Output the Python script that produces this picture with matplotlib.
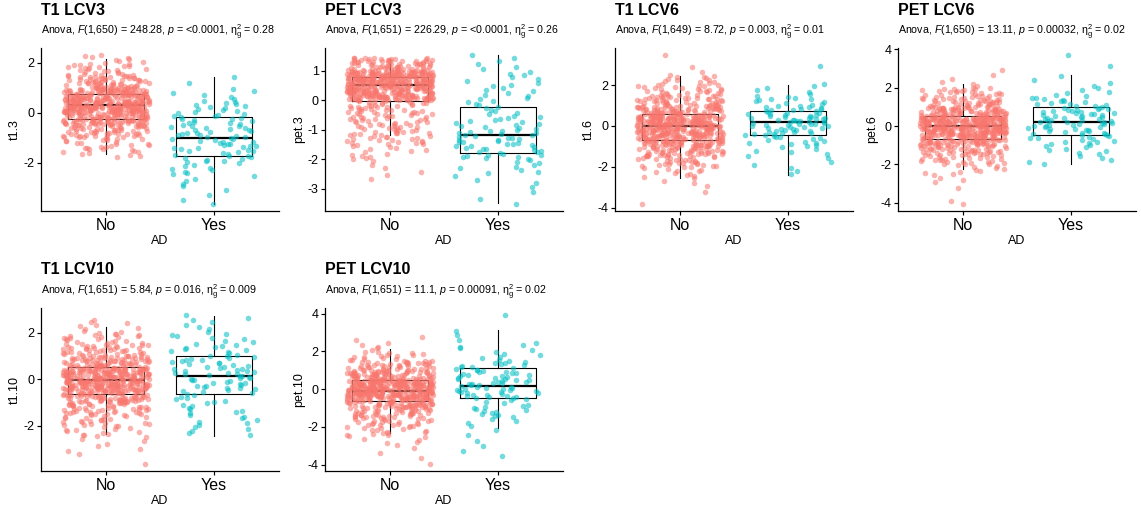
import numpy as np
import matplotlib
matplotlib.use("Agg")
import matplotlib.pyplot as plt

plt.rcParams['font.family'] = ['Liberation Sans', 'DejaVu Sans']
plt.rcParams['axes.unicode_minus'] = False
plt.rcParams['mathtext.fontset'] = 'custom'
plt.rcParams['mathtext.rm'] = 'Liberation Sans'
plt.rcParams['mathtext.it'] = 'Liberation Sans:italic'
plt.rcParams['mathtext.bf'] = 'Liberation Sans:bold'

# ---------------- data ----------------
groups = ["No", "Yes"]
xlabel = "AD"
titles = ["T1 LCV3", "PET LCV3", "T1 LCV6", "PET LCV6", "T1 LCV10", "PET LCV10"]
ylabels = ["t1.3", "pet.3", "t1.6", "pet.6", "t1.10", "pet.10"]
subtitles = [
    r"Anova, $\mathit{F}$(1,650) = 248.28, $\mathit{p}$ = <0.0001, $\mathrm{\eta}_\mathrm{g}^\mathrm{2}$ = 0.28",
    r"Anova, $\mathit{F}$(1,651) = 226.29, $\mathit{p}$ = <0.0001, $\mathrm{\eta}_\mathrm{g}^\mathrm{2}$ = 0.26",
    r"Anova, $\mathit{F}$(1,649) = 8.72, $\mathit{p}$ = 0.003, $\mathrm{\eta}_\mathrm{g}^\mathrm{2}$ = 0.01",
    r"Anova, $\mathit{F}$(1,650) = 13.11, $\mathit{p}$ = 0.00032, $\mathrm{\eta}_\mathrm{g}^\mathrm{2}$ = 0.02",
    r"Anova, $\mathit{F}$(1,651) = 5.84, $\mathit{p}$ = 0.016, $\mathrm{\eta}_\mathrm{g}^\mathrm{2}$ = 0.009",
    r"Anova, $\mathit{F}$(1,651) = 11.1, $\mathit{p}$ = 0.00091, $\mathrm{\eta}_\mathrm{g}^\mathrm{2}$ = 0.02",
]
yticks = [[-2, 0, 2], [-3, -2, -1, 0, 1], [-4, -2, 0, 2], [-4, -2, 0, 2, 4],
          [-2, 0, 2], [-4, -2, 0, 2, 4]]

# box statistics: [whisker low, Q1, median, Q3, whisker high]
t13_no_box = [-1.65, -0.24, 0.32, 0.75, 2.16]
t13_yes_box = [-3.64, -1.72, -1.01, -0.17, 1.43]
pet3_no_box = [-1.19, -0.01, 0.51, 0.79, 1.41]
pet3_yes_box = [-3.49, -1.78, -1.18, -0.22, 1.52]
t16_no_box = [-2.54, -0.69, 0.00, 0.57, 2.44]
t16_yes_box = [-2.38, -0.44, 0.19, 0.74, 2.02]
pet6_no_box = [-2.24, -0.66, 0.00, 0.52, 2.21]
pet6_yes_box = [-1.99, -0.47, 0.22, 0.97, 2.68]
t110_no_box = [-2.35, -0.64, -0.02, 0.53, 2.23]
t110_yes_box = [-2.42, -0.64, 0.13, 1.01, 2.72]
pet10_no_box = [-2.31, -0.62, -0.09, 0.49, 2.13]
pet10_yes_box = [-2.04, -0.45, 0.14, 1.12, 3.15]

# point distributions: bin edges and counts per bin
t13_no_edges = [-1.79, -1.5, -1, -0.5, 0, 0.5, 1, 1.5, 2, 2.32]
t13_no_counts = [8, 22, 50, 100, 160, 120, 55, 25, 8]
t13_yes_edges = [-3.7, -3.58, -3, -2.5, -2, -1.5, -1, -0.5, 0, 0.5, 1, 1.38, 1.48]
t13_yes_counts = [1, 3, 5, 9, 15, 18, 18, 16, 12, 6, 1, 1]

pet3_no_edges = [-2.7, -2.6, -2.0, -1.5, -1.0, -0.5, 0, 0.5, 1.0, 1.45]
pet3_no_counts = [1, 5, 14, 30, 35, 40, 160, 195, 68]
pet3_yes_edges = [-3.55, -3.45, -3, -2.5, -2, -1.5, -1, -0.5, 0, 0.5, 1, 1.47, 1.57]
pet3_yes_counts = [1, 2, 4, 9, 20, 22, 14, 10, 9, 8, 5, 1]

t16_no_edges = [-3.85, -3.75, -3.5, -3, -2.5, -2, -1.5, -1, -0.5, 0, 0.5, 1, 1.5, 2, 2.5, 3, 3.4, 3.5]
t16_no_counts = [1, 0, 1, 4, 12, 28, 50, 80, 103, 115, 70, 42, 25, 14, 2, 0, 1]
t16_yes_edges = [-2.45, -2, -1.5, -1, -0.5, 0, 0.5, 1, 1.5, 2.1, 2.9, 3.0]
t16_yes_counts = [3, 3, 6, 12, 20, 25, 18, 11, 6, 0, 1]

pet6_no_edges = [-4.1, -3.85, -3.5, -3.0, -2.5, -2, -1.5, -1, -0.5, 0, 0.5, 1, 1.5, 2, 2.5, 3.05]
pet6_no_counts = [2, 0, 1, 4, 10, 25, 45, 75, 120, 125, 70, 40, 25, 4, 2]
pet6_yes_edges = [-2.05, -1.5, -1, -0.5, 0, 0.5, 1, 1.5, 2, 2.5, 2.75, 3.1, 3.2, 3.63, 3.73]
pet6_yes_counts = [5, 7, 12, 17, 20, 19, 13, 6, 3, 1, 0, 1, 0, 1]

t110_no_edges = [-3.7, -3.55, -3.25, -3.15, -2.5, -2, -1.5, -1, -0.5, 0, 0.5, 1, 1.5, 2, 2.58]
t110_no_counts = [1, 0, 1, 6, 14, 24, 42, 75, 125, 118, 71, 40, 22, 9]
t110_yes_edges = [-2.45, -2, -1.5, -1, -0.5, 0, 0.5, 1, 1.5, 2, 2.5, 2.8]
t110_yes_counts = [5, 7, 8, 9, 16, 18, 15, 11, 8, 5, 3]

pet10_no_edges = [-4.1, -3.5, -3, -2.5, -2, -1.5, -1, -0.5, 0, 0.5, 1, 1.5, 2, 2.5, 2.85]
pet10_no_counts = [2, 2, 6, 15, 25, 40, 68, 132, 125, 70, 40, 16, 5, 2]
pet10_yes_edges = [-3.7, -2.9, -2.0, -1.5, -1.0, -0.5, 0, 0.5, 1.0, 1.5, 2.0, 2.5, 3.2, 3.85, 3.95]
pet10_yes_counts = [3, 3, 4, 10, 7, 18, 17, 16, 12, 6, 5, 3, 0, 1]

colors = ["#F8766D", "#00BFC4"]

panels = [
    (t13_no_edges, t13_no_counts, t13_yes_edges, t13_yes_counts, t13_no_box, t13_yes_box),
    (pet3_no_edges, pet3_no_counts, pet3_yes_edges, pet3_yes_counts, pet3_no_box, pet3_yes_box),
    (t16_no_edges, t16_no_counts, t16_yes_edges, t16_yes_counts, t16_no_box, t16_yes_box),
    (pet6_no_edges, pet6_no_counts, pet6_yes_edges, pet6_yes_counts, pet6_no_box, pet6_yes_box),
    (t110_no_edges, t110_no_counts, t110_yes_edges, t110_yes_counts, t110_no_box, t110_yes_box),
    (pet10_no_edges, pet10_no_counts, pet10_yes_edges, pet10_yes_counts, pet10_no_box, pet10_yes_box),
]


def expand(edges, counts):
    ys = []
    for lo, hi, c in zip(edges[:-1], edges[1:], counts):
        for i in range(c):
            ys.append(lo + (i + 0.5) / c * (hi - lo))
    return np.array(ys)


# ---------------- layout ----------------
W, H = 1141, 514
fig = plt.figure(figsize=(W / 100, H / 100), dpi=100)

col_left = [41, 325, 615, 898]
row_top = [48, 308]
ax_w, ax_h = 238, 163
title_base = [15, 274]
sub_base = [34.5, 295]

rng = np.random.default_rng(7)

for k, (ne, nc, ye, yc, nb, yb) in enumerate(panels):
    r, c = divmod(k, 4)
    left = col_left[c]
    top = row_top[r]
    ax = fig.add_axes([left / W, 1 - (top + ax_h) / H, ax_w / W, ax_h / H])

    all_y = []
    for gi, (edges, counts, box) in enumerate([(ne, nc, nb), (ye, yc, yb)]):
        pos = gi + 1
        st = dict(whislo=box[0], q1=box[1], med=box[2], q3=box[3], whishi=box[4], fliers=[])
        ax.bxp([st], positions=[pos], widths=0.7, showcaps=False, showfliers=False,
               boxprops=dict(color="black", lw=0.8),
               whiskerprops=dict(color="black", lw=0.8),
               medianprops=dict(color="black", lw=1.6, solid_capstyle="butt"),
               manage_ticks=False, zorder=2)
        ys = expand(edges, counts)
        xs = pos + rng.uniform(-0.4, 0.4, size=len(ys))
        ax.scatter(xs, ys, s=16, color=colors[gi], alpha=0.55, linewidths=0, zorder=3)
        all_y.append(ys)

    all_y = np.concatenate(all_y)
    lo, hi = all_y.min(), all_y.max()
    pad = 0.05 * (hi - lo)
    ax.set_ylim(lo - pad, hi + pad)
    ax.set_xlim(0.4, 2.6)
    ax.set_xticks([1, 2])
    ax.set_xticklabels(groups, fontsize=11.5)
    ax.set_yticks(yticks[k])
    ax.set_yticklabels([str(t) for t in yticks[k]], fontsize=9)
    ax.tick_params(axis="both", direction="out", length=3, width=0.85, colors="black")
    ax.tick_params(axis="x", pad=2.0)
    ax.tick_params(axis="y", pad=1.5)
    for s in ["top", "right"]:
        ax.spines[s].set_visible(False)
    for s in ["left", "bottom"]:
        ax.spines[s].set_linewidth(0.9)
        ax.spines[s].set_color("black")
    ax.set_xlabel(xlabel, fontsize=9, labelpad=1.5)
    ax.set_ylabel(ylabels[k], fontsize=9, labelpad=2)

    fig.text(left / W, 1 - title_base[r] / H, titles[k], fontsize=11.5,
             fontweight="bold", va="baseline", ha="left")
    fig.text(left / W, 1 - sub_base[r] / H, subtitles[k], fontsize=7.7,
             va="baseline", ha="left")

fig.savefig("out.png", dpi=100)
